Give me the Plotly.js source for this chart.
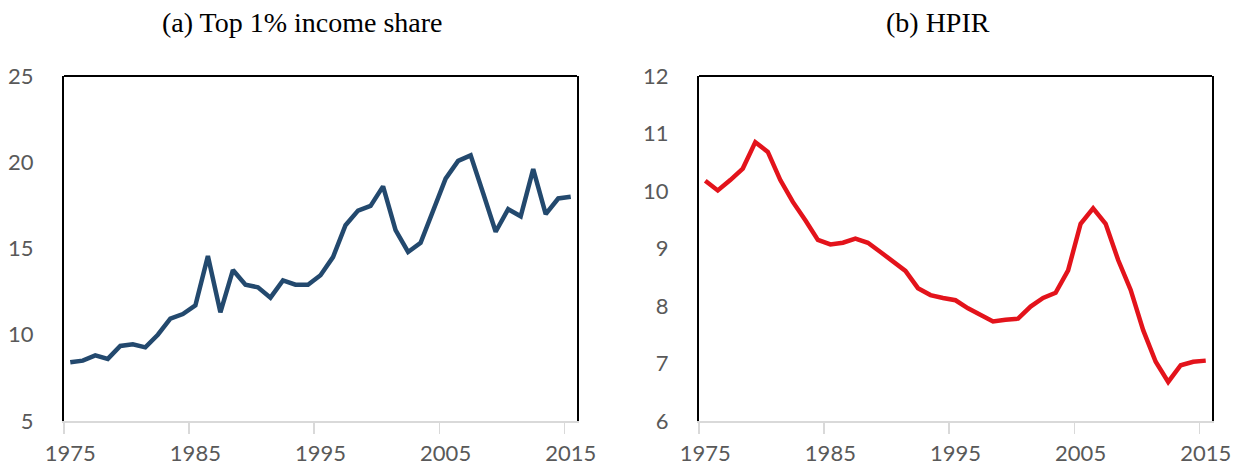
<!DOCTYPE html>
<html>
<head>
<meta charset="utf-8">
<script src="https://cdn.plot.ly/plotly-3.0.1.min.js"></script>
<style>
  html, body { margin: 0; padding: 0; background: #ffffff; }
  #chart { width: 1241px; height: 465px; }
</style>
</head>
<body>
<div id="chart"></div>
<script>
// Annual observations, 1975-2015
const years = [1975, 1976, 1977, 1978, 1979, 1980, 1981, 1982, 1983, 1984,
               1985, 1986, 1987, 1988, 1989, 1990, 1991, 1992, 1993, 1994,
               1995, 1996, 1997, 1998, 1999, 2000, 2001, 2002, 2003, 2004,
               2005, 2006, 2007, 2008, 2009, 2010, 2011, 2012, 2013, 2014,
               2015];

// (a) Top 1% income share, percent
const topShare = [8.4, 8.5, 8.8, 8.6, 9.35, 9.45, 9.27, 10.0, 10.93, 11.2,
                  11.7, 14.56, 11.3, 13.75, 12.9, 12.75, 12.15, 13.15, 12.9, 12.9,
                  13.45, 14.5, 16.35, 17.2, 17.47, 18.6, 16.06, 14.8, 15.33, 17.2,
                  19.05, 20.08, 20.4, 18.2, 15.97, 17.28, 16.87, 19.6, 16.99, 17.9,
                  18.0];

// (b) House price to income ratio
const hpir = [10.18, 10.01, 10.19, 10.39, 10.85, 10.68, 10.19, 9.81, 9.49, 9.15,
              9.07, 9.1, 9.17, 9.1, 8.94, 8.77, 8.61, 8.31, 8.19, 8.14,
              8.1, 7.96, 7.84, 7.73, 7.76, 7.78, 7.99, 8.14, 8.23, 8.62,
              9.43, 9.7, 9.43, 8.8, 8.28, 7.58, 7.03, 6.68, 6.97, 7.03,
              7.05];

// Axis ticks
const xTickLabels = ['1975', '1985', '1995', '2005', '2015'];
const yTicksA = [5, 10, 15, 20, 25];
const yTicksB = [6, 7, 8, 9, 10, 11, 12];
const titleA = '(a) Top 1% income share';
const titleB = '(b) HPIR';

const W = 1241, H = 465;
const px = v => v / W;
const py = v => 1 - v / H;

const tickFont = { family: 'Lato, "Open Sans", sans-serif', size: 22, color: '#595959' };
const titleFont = { family: '"Liberation Serif", "DejaVu Serif", serif', size: 28, color: '#000000' };

const labelVals = xTickLabels.map(Number);
// tick marks sit on the boundary to the left of each labelled year
const boundaryVals = labelVals.map(v => v - 0.5);
const xRange = [years[0] - 0.5, years[years.length - 1] + 0.5];

function labelAxis(domain, anchor) {
  return {
    domain: domain, anchor: anchor, range: xRange, type: 'linear',
    tickmode: 'array', tickvals: labelVals, ticktext: xTickLabels,
    ticks: '', showgrid: false, zeroline: false,
    showline: true, linecolor: '#d9d9d9', linewidth: 1.5,
    tickfont: tickFont, ticklabelstandoff: 12, fixedrange: true
  };
}
function markAxis(overlay, anchor) {
  return {
    overlaying: overlay, anchor: anchor, range: xRange, type: 'linear',
    tickmode: 'array', tickvals: boundaryVals, ticks: 'outside',
    ticklen: 12, tickwidth: 1.5, tickcolor: '#d9d9d9',
    showticklabels: false, showgrid: false, zeroline: false, showline: false,
    fixedrange: true
  };
}
function valueAxis(domain, anchor, range, vals) {
  return {
    domain: domain, anchor: anchor, range: range,
    tickmode: 'array', tickvals: vals, ticks: '',
    showgrid: false, zeroline: false,
    showline: true, mirror: true, linecolor: '#000000', linewidth: 2,
    tickfont: tickFont, ticklabelstandoff: 24, fixedrange: true
  };
}

const yDomain = [py(421), py(76)];

const traces = [
  { x: years, y: topShare, xaxis: 'x', yaxis: 'y', type: 'scatter', mode: 'lines',
    line: { color: '#23496e', width: 4.5 }, hoverinfo: 'x+y' },
  { x: years, y: hpir, xaxis: 'x2', yaxis: 'y2', type: 'scatter', mode: 'lines',
    line: { color: '#e3131b', width: 4.5 }, hoverinfo: 'x+y' }
];

const layout = {
  width: W, height: H,
  margin: { l: 0, r: 0, t: 0, b: 0 },
  paper_bgcolor: '#ffffff', plot_bgcolor: '#ffffff',
  showlegend: false,
  xaxis: labelAxis([px(64), px(577)], 'y'),
  xaxis2: labelAxis([px(699), px(1212)], 'y2'),
  xaxis3: markAxis('x', 'y'),
  xaxis4: markAxis('x2', 'y2'),
  yaxis: valueAxis(yDomain, 'x', [5, 25], yTicksA),
  yaxis2: valueAxis(yDomain, 'x2', [6, 12], yTicksB),
  shapes: [
    { type: 'line', xref: 'x domain', yref: 'y domain', x0: 0, x1: 1, y0: 1, y1: 1,
      line: { color: '#000000', width: 2 } },
    { type: 'line', xref: 'x2 domain', yref: 'y2 domain', x0: 0, x1: 1, y0: 1, y1: 1,
      line: { color: '#000000', width: 2 } }
  ],
  annotations: [
    { text: titleA, xref: 'paper', yref: 'paper', x: px(302), y: py(23),
      xanchor: 'center', yanchor: 'middle', showarrow: false, font: titleFont },
    { text: titleB, xref: 'paper', yref: 'paper', x: px(938), y: py(23),
      xanchor: 'center', yanchor: 'middle', showarrow: false, font: titleFont }
  ]
};

// the boundary-mark axes need a trace each so they are drawn
traces.push({ x: [], y: [], xaxis: 'x3', yaxis: 'y', type: 'scatter', hoverinfo: 'skip' });
traces.push({ x: [], y: [], xaxis: 'x4', yaxis: 'y2', type: 'scatter', hoverinfo: 'skip' });

Plotly.newPlot('chart', traces, layout, { displayModeBar: false, staticPlot: true });
</script>
</body>
</html>
